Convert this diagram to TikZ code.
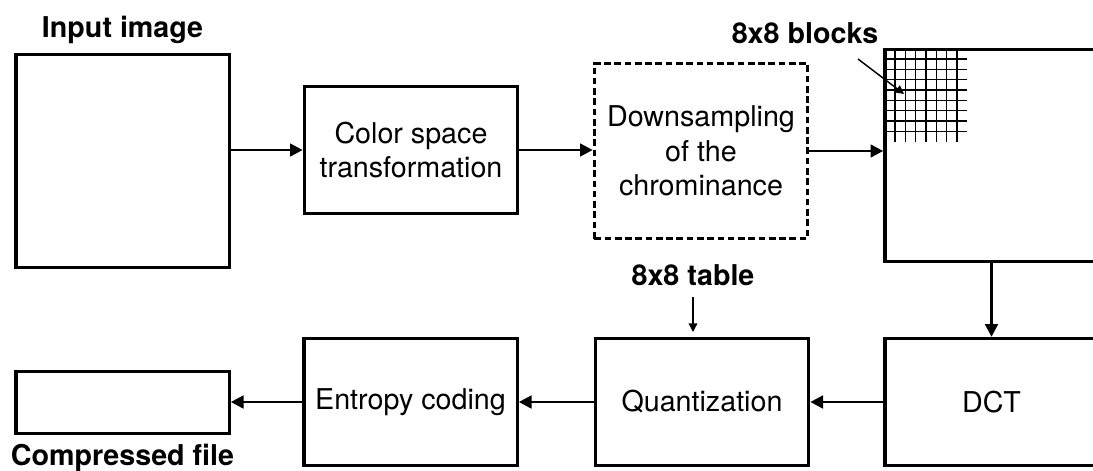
\documentclass[tikz,border=0pt]{standalone}
\usepackage{fontspec}
\setmainfont{TeX Gyre Heros}
\usetikzlibrary{arrows.meta}
\begin{document}
\begin{tikzpicture}[x=0.75pt,y=-0.75pt,
  txt/.style={font=\fontsize{21.5pt}{26pt}\selectfont},
  box/.style={draw, line width=2.5pt, rectangle, inner sep=0pt, align=center, txt, minimum width=160pt},
  dbox/.style={box, dash pattern=on 5pt off 2.7pt},
  lbl/.style={anchor=base, font=\fontsize{21.5pt}{26pt}\selectfont\bfseries, inner sep=0pt},
  arr/.style={line width=2pt, -{Triangle[length=9.5pt,width=9.5pt]}},
  thinarr/.style={line width=1.1pt, -{Triangle[length=6.5pt,width=6.5pt]}},
  gridline/.style={line width=0.8pt}]
\useasboundingbox (0,0) rectangle (1093,471);
\clip (0,0) rectangle (1093,471);

% boxes
\node[box, minimum height=159.75pt] (in) at (122.5,161) {};
\node[box, minimum height=95.25pt] (cst) at (411,150) {Color space\\transformation};
\node[dbox, minimum height=131.25pt] (ds) at (701,151) {Downsampling\\of the\\chrominance};
\node[box, minimum height=159pt] (blk) at (991.5,155.5) {};
\node[box, minimum height=95.25pt] (dct) at (991.5,402) {DCT};
\node[box, minimum height=95.25pt] (q) at (702,402) {Quantization};
\node[box, minimum height=95.25pt] (ent) at (410.5,402) {Entropy coding};
\node[box, minimum height=46.5pt] (cf) at (122.5,402.5) {};

% labels
\node[lbl] (lin) at (122.5,37) {Input image};
\node[lbl] (lblk) at (805,43) {8x8 blocks};
\node[lbl] (ltab) at (693,285) {8x8 table};
\node[lbl] (lcf) at (122.5,465.5) {Compressed file};

% grid of 8x8 blocks
\foreach \i in {0,...,6} {
  \draw[gridline] ({895+\i*10.33},48) -- ({895+\i*10.33},142);
}
\foreach \j in {0,...,7} {
  \draw[gridline] (883,{59+\j*10.33}) -- (967,{59+\j*10.33});
}

% connectors
\draw[arr] (in.east |- cst.west) -- (cst.west);
\draw[arr] (cst.east) -- (ds.west |- cst.east);
\draw[arr] (ds.east) -- (blk.west |- ds.east);
\draw[arr] (blk.south) -- (dct.north);
\draw[arr] (dct.west) -- (q.east);
\draw[arr] (q.west) -- (ent.east);
\draw[arr] (ent.west) -- (cf.east |- ent.west);

\coordinate (bs) at (858,59);
\coordinate (be) at (904,94);
\draw[thinarr] (bs) -- (be);
\coordinate (ts) at (693,297);
\coordinate (te) at (693,332);
\draw[thinarr] (ts) -- (te);
\end{tikzpicture}
\end{document}
